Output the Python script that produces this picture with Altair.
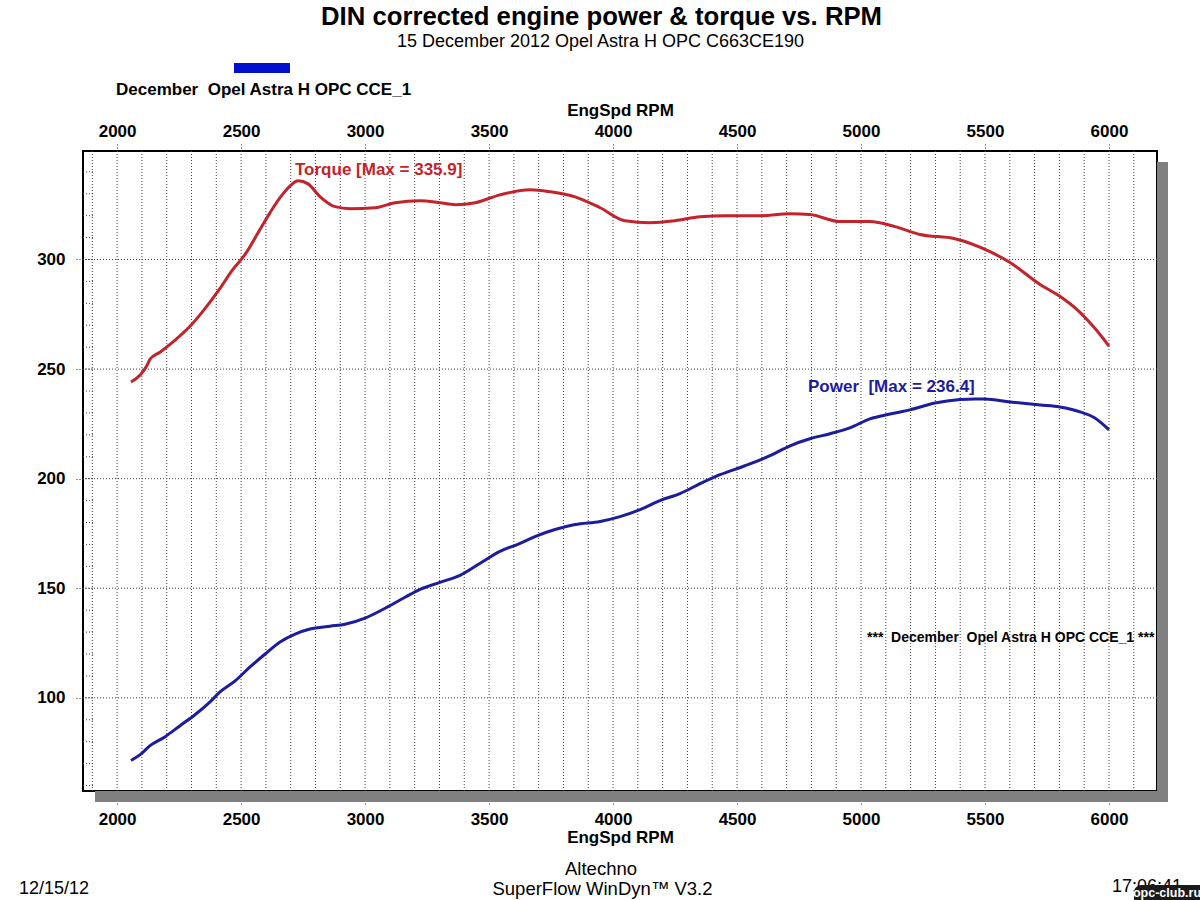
import altair as alt
import pandas as pd

# ---------------- data ----------------
rpm_torque = [2056, 2093, 2120, 2133, 2173, 2234, 2294, 2355, 2415, 2464, 2516, 2569,
              2617, 2657, 2698, 2730, 2770, 2819, 2879, 2940, 3040, 3121, 3222, 3302,
              3363, 3444, 3544, 3665, 3746, 3847, 3948, 4048, 4149, 4250, 4351, 4452,
              4593, 4714, 4794, 4915, 5036, 5137, 5238, 5379, 5520, 5601, 5722, 5802,
              5883, 5943, 6000]
torque = [244.1, 247.3, 251.5, 254.5, 257.7, 263.2, 269.5, 277.7, 286.8, 295.0, 302.3, 312.3,
          321.4, 328.2, 333.6, 335.9, 334.5, 328.6, 324.1, 323.2, 323.6, 325.9, 326.8, 325.9,
          325.0, 325.9, 329.5, 331.8, 330.9, 328.6, 323.6, 317.7, 316.8, 317.7, 319.5, 320.0,
          320.0, 320.9, 320.5, 317.3, 317.3, 315.0, 311.4, 309.5, 303.6, 298.6, 288.6, 283.2,
          275.9, 268.6, 260.5]

rpm_power = [2056, 2093, 2133, 2194, 2254, 2314, 2375, 2415, 2476, 2536, 2597, 2657,
             2718, 2778, 2859, 2919, 3000, 3081, 3161, 3222, 3302, 3383, 3464, 3544,
             3625, 3685, 3766, 3847, 3948, 4028, 4109, 4189, 4270, 4351, 4431, 4532,
             4633, 4714, 4794, 4875, 4955, 5036, 5117, 5197, 5298, 5399, 5460, 5500,
             5601, 5722, 5802, 5883, 5943, 6000]
power = [71.4, 74.1, 78.2, 82.3, 87.3, 92.3, 98.2, 102.7, 107.7, 114.1, 120.0, 125.5,
         129.1, 131.4, 132.7, 133.6, 136.4, 140.9, 145.9, 149.5, 152.7, 155.9, 161.4, 166.8,
         170.5, 173.6, 176.8, 179.1, 180.5, 182.7, 185.9, 190.0, 193.2, 197.7, 201.8, 205.9,
         210.5, 215.0, 218.2, 220.5, 223.2, 227.3, 229.5, 231.4, 234.5, 236.1, 236.4, 236.3,
         235.0, 233.6, 232.7, 230.5, 227.7, 222.3]

x_ticks = [2000, 2500, 3000, 3500, 4000, 4500, 5000, 5500, 6000]
y_ticks = [100, 150, 200, 250, 300]
x_grid = [1900 + 100 * i for i in range(43)]
y_minor = [60 + 10 * i for i in range(29)]

NB = "\u00a0"
TITLE = "DIN corrected engine power & torque vs. RPM"
SUBTITLE = "15 December 2012 Opel Astra H OPC C663CE190"
RUN_NAME = "December" + NB + " Opel Astra H OPC CCE_1"
AXIS_TITLE = "EngSpd RPM"
TORQUE_LABEL = "Torque [Max = 335.9]"
POWER_LABEL = "Power" + NB + " [Max = 236.4]"
RUN_TAG = "***" + NB + " December" + NB + " Opel Astra H OPC CCE_1 ***"
FOOT1 = "Altechno"
FOOT2 = "SuperFlow WinDyn\u2122 V3.2"
DATE = "12/15/12"
TIME = "17:06:41"
WATERMARK = "opc-club.ru"

# ---------------- setup ----------------
FONT = "Liberation Sans"
RED = "#c3232b"
BLUE = "#1c1c9e"
W, H = 1074, 640

df = pd.DataFrame({
    "rpm": rpm_torque + rpm_power,
    "value": torque + power,
    "series": ["Torque"] * len(torque) + ["Power"] * len(power),
})

xs = alt.Scale(domain=[1862.5, 6193.6], nice=False, zero=False)
ys = alt.Scale(domain=[57.5, 349.5], nice=False, zero=False)
one = pd.DataFrame({"k": [0]})

axis_common = dict(
    values=x_ticks, grid=False, domain=False, format="d",
    tickDash=[1, 2], tickColor="#222", tickWidth=1,
    labelFont=FONT, labelFontWeight="bold", labelFontSize=17, labelColor="black",
    labelFlush=False,
    title=AXIS_TITLE, titleFont=FONT, titleFontWeight="bold", titleFontSize=17,
    titleColor="black",
)

# shadow of the frame
shadow_r = alt.Chart(one).mark_rect(color="#808080").encode(
    x=alt.value(W), x2=alt.value(W + 11), y=alt.value(11), y2=alt.value(H + 11))
shadow_b = alt.Chart(one).mark_rect(color="#808080").encode(
    x=alt.value(12), x2=alt.value(W + 11), y=alt.value(H), y2=alt.value(H + 11))

# vertical grid, also carries the top axis
vgrid = alt.Chart(pd.DataFrame({"g": x_grid})).mark_rule(
    color="#444", strokeDash=[1, 2], strokeWidth=1).encode(
    x=alt.X("g:Q", scale=xs,
            axis=alt.Axis(orient="top", tickSize=8, labelPadding=3, titlePadding=3,
                          **axis_common)))

# horizontal grid, also carries the y axis
hgrid = alt.Chart(pd.DataFrame({"h": y_ticks})).mark_rule(
    color="#444", strokeDash=[1, 2], strokeWidth=1).encode(
    y=alt.Y("h:Q", scale=ys,
            axis=alt.Axis(orient="left", values=y_ticks, grid=False, domain=False,
                          title=None, tickSize=8, tickDash=[1, 2], tickColor="#222",
                          labelFont=FONT, labelFontWeight="bold", labelFontSize=17,
                          labelColor="black", labelPadding=10)))

yminor = alt.Chart(pd.DataFrame({"m": y_minor})).mark_rule(
    color="#444", strokeDash=[1, 2], strokeWidth=1).encode(
    y=alt.Y("m:Q", scale=ys, axis=None), x=alt.value(0), x2=alt.value(10))

lines = alt.Chart(df).mark_line(strokeWidth=3, interpolate="monotone").encode(
    x=alt.X("rpm:Q", scale=xs,
            axis=alt.Axis(orient="bottom", tickSize=14, labelPadding=6, titlePadding=2,
                          **axis_common)),
    y=alt.Y("value:Q", scale=ys, axis=None),
    color=alt.Color("series:N", scale=alt.Scale(domain=["Torque", "Power"],
                                                range=[RED, BLUE]), legend=None),
    detail="series:N",
)


def txt(text, x, y, size, weight="normal", color="black", align="left",
        baseline="middle"):
    return alt.Chart(one).mark_text(
        text=text, font=FONT, fontSize=size, fontWeight=weight, color=color,
        align=align, baseline=baseline).encode(x=alt.value(x), y=alt.value(y))


legend_bar = alt.Chart(one).mark_rect(color="#0010cc").encode(
    x=alt.value(151), x2=alt.value(207), y=alt.value(-88), y2=alt.value(-78))

wm_box = alt.Chart(one).mark_rect(color="#1a1a1a", cornerRadiusTopLeft=9).encode(
    x=alt.value(1051), x2=alt.value(1117), y=alt.value(734), y2=alt.value(749))

layers = [
    shadow_r, shadow_b, vgrid, hgrid, yminor, lines,
    txt(TITLE, 518.5, -126, 25.7, "bold", align="center", baseline="alphabetic"),
    txt(SUBTITLE, 517.5, -104.5, 18, align="center", baseline="alphabetic"),
    legend_bar,
    txt(RUN_NAME, 33, -61, 17, "bold"),
    txt(TORQUE_LABEL, 212, 19, 17, "bold", color=RED),
    txt(POWER_LABEL, 725, 236, 17, "bold", color=BLUE),
    txt(RUN_TAG, 784, 487, 14, "bold"),
    txt(FOOT1, 518, 718, 18.5, align="center"),
    txt(FOOT2, 519.5, 738, 18.5, align="center"),
    txt(DATE, -64, 738, 18),
    txt(TIME, 1029, 736, 18),
    wm_box,
    txt(WATERMARK, 1084, 742, 12.5, "bold", color="white", align="center"),
]

chart = alt.layer(*layers).resolve_axis(x="independent", y="independent").properties(
    width=W, height=H,
    padding={"left": 83, "top": 151, "right": 43, "bottom": 109},
    autosize=alt.AutoSizeParams(type="none"),
    background="white",
).configure_view(stroke="black", strokeWidth=2)

chart.save("out.html", embed_options={"renderer": "svg", "actions": False})
